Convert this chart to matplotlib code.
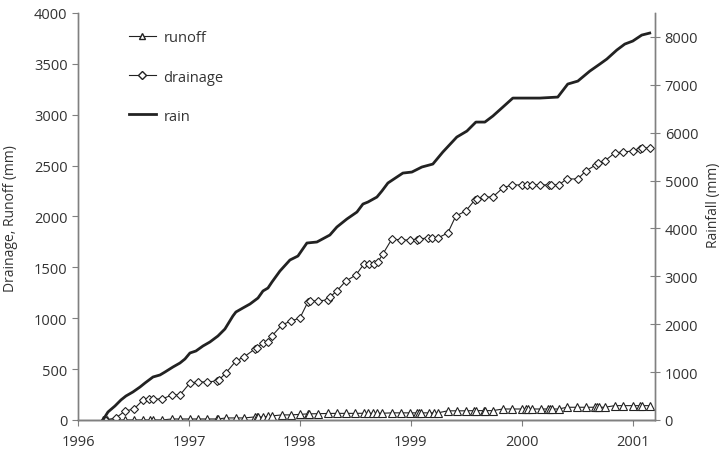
import matplotlib
matplotlib.use('Agg')
import numpy as np
import matplotlib.pyplot as plt
from matplotlib.lines import Line2D

# cumulative rainfall (right axis), decimal years
rain_year = [1996.225, 1996.270, 1996.333, 1996.387, 1996.432, 1996.495, 1996.559, 1996.604,
             1996.676, 1996.739, 1996.784, 1996.856, 1996.919, 1996.964, 1997.009, 1997.063,
             1997.126, 1997.189, 1997.261, 1997.324, 1997.396, 1997.423, 1997.486, 1997.550,
             1997.622, 1997.667, 1997.712, 1997.748, 1997.820, 1997.910, 1997.982, 1998.063,
             1998.153, 1998.270, 1998.333, 1998.423, 1998.514, 1998.568, 1998.613, 1998.694,
             1998.739, 1998.793, 1998.874, 1998.928, 1999.009, 1999.099, 1999.198, 1999.288,
             1999.414, 1999.505, 1999.586, 1999.667, 1999.739, 1999.829, 1999.919, 2000.162,
             2000.324, 2000.414, 2000.505, 2000.613, 2000.703, 2000.766, 2000.856, 2000.928,
             2001.000, 2001.081, 2001.153]
rain_mm = [0, 167, 292, 418, 501, 585, 689, 773,
           898, 940, 1002, 1107, 1190, 1274, 1399, 1441,
           1545, 1629, 1754, 1900, 2172, 2255, 2339, 2422,
           2547, 2694, 2756, 2881, 3111, 3341, 3424, 3696,
           3717, 3863, 4030, 4197, 4343, 4510, 4552, 4656,
           4782, 4949, 5074, 5157, 5178, 5283, 5345, 5596,
           5909, 6034, 6222, 6222, 6348, 6535, 6723, 6723,
           6744, 7016, 7078, 7287, 7433, 7538, 7726, 7851,
           7914, 8039, 8081]

# cumulative drainage (left axis)
drain_year = [1996.243, 1996.342, 1996.423, 1996.505, 1996.586, 1996.640, 1996.676, 1996.757,
              1996.847, 1996.919, 1997.009, 1997.081, 1997.162, 1997.252, 1997.270, 1997.333,
              1997.423, 1997.495, 1997.595, 1997.613, 1997.667, 1997.712, 1997.748, 1997.838,
              1997.919, 1998.000, 1998.072, 1998.090, 1998.162, 1998.252, 1998.270, 1998.333,
              1998.414, 1998.505, 1998.577, 1998.622, 1998.667, 1998.703, 1998.748, 1998.829,
              1998.910, 1998.991, 1999.054, 1999.072, 1999.153, 1999.189, 1999.243, 1999.333,
              1999.405, 1999.495, 1999.577, 1999.595, 1999.658, 1999.739, 1999.829, 1999.910,
              2000.000, 2000.045, 2000.090, 2000.162, 2000.243, 2000.261, 2000.333, 2000.405,
              2000.505, 2000.577, 2000.667, 2000.685, 2000.748, 2000.838, 2000.910, 2001.000,
              2001.063, 2001.081, 2001.153]
drain_mm = [0, 20, 88, 108, 197, 206, 206, 206,
            246, 246, 364, 374, 374, 383, 393, 462,
            580, 619, 698, 708, 757, 767, 826, 934,
            973, 1002, 1160, 1170, 1170, 1180, 1209, 1268,
            1366, 1425, 1533, 1533, 1533, 1553, 1632, 1779,
            1769, 1769, 1769, 1779, 1789, 1789, 1789, 1838,
            2005, 2054, 2163, 2172, 2192, 2192, 2281, 2310,
            2310, 2310, 2310, 2310, 2310, 2310, 2310, 2369,
            2369, 2448, 2507, 2526, 2546, 2625, 2634, 2644,
            2664, 2674, 2674]

# cumulative runoff (left axis)
runoff_year = [1996.225, 1996.261, 1996.342, 1996.423, 1996.505, 1996.586, 1996.649, 1996.676,
               1996.757, 1996.847, 1996.919, 1997.009, 1997.081, 1997.162, 1997.252, 1997.261,
               1997.333, 1997.423, 1997.495, 1997.595, 1997.613, 1997.622, 1997.667, 1997.712,
               1997.748, 1997.838, 1997.919, 1998.000, 1998.072, 1998.081, 1998.162, 1998.252,
               1998.333, 1998.414, 1998.495, 1998.577, 1998.613, 1998.658, 1998.694, 1998.739,
               1998.829, 1998.910, 1998.991, 1999.054, 1999.072, 1999.090, 1999.162, 1999.207,
               1999.243, 1999.333, 1999.414, 1999.495, 1999.568, 1999.586, 1999.658, 1999.667,
               1999.739, 1999.829, 1999.910, 2000.000, 2000.036, 2000.054, 2000.090, 2000.171,
               2000.234, 2000.252, 2000.270, 2000.333, 2000.405, 2000.495, 2000.577, 2000.658,
               2000.676, 2000.694, 2000.748, 2000.838, 2000.910, 2001.000, 2001.063, 2001.081,
               2001.153]
runoff_mm = [0, 0, 0, 0, 0, 0, 0, 0,
             0, 10, 10, 10, 10, 10, 10, 10,
             20, 20, 20, 30, 30, 30, 30, 35,
             40, 50, 50, 55, 60, 60, 62, 64,
             65, 65, 65, 66, 66, 66, 66, 66,
             70, 70, 70, 70, 70, 70, 70, 70,
             70, 90, 90, 90, 92, 92, 92, 92,
             92, 108, 108, 108, 108, 108, 108, 108,
             108, 108, 108, 108, 125, 125, 125, 125,
             125, 125, 125, 141, 141, 141, 141, 141,
             141]

x_ticks = [1996, 1997, 1998, 1999, 2000, 2001]

plt.rcParams['font.family'] = ['Open Sans', 'DejaVu Sans']
text_col = '#333333'
axis_col = '#808080'

fig = plt.figure(figsize=(7.25, 4.56), dpi=100)
ax = fig.add_axes([0.1076, 0.0768, 0.7958, 0.8925])
ax2 = ax.twinx()

ax.plot(runoff_year, runoff_mm, '-', color='#222222', lw=0.8, marker='^', ms=5.5,
        mfc='white', mec='#222222', mew=0.8, zorder=3)
ax.plot(drain_year, drain_mm, '-', color='#222222', lw=0.8, marker='D', ms=4,
        mfc='white', mec='#222222', mew=0.8, zorder=3)
ax2.plot(rain_year, rain_mm, '-', color='#222222', lw=2.0)

ax.set_xlim(1996, 2001.2)
ax.set_ylim(0, 4000)
ax2.set_ylim(0, 8500)
ax.set_xticks(x_ticks)
ax.set_xticklabels([str(y) for y in x_ticks])
ax.set_yticks(np.arange(0, 4001, 500))
ax2.set_yticks(np.arange(0, 8001, 1000))

for a in (ax, ax2):
    a.spines['top'].set_visible(False)
    for s in ('left', 'right', 'bottom'):
        a.spines[s].set_color(axis_col)
        a.spines[s].set_linewidth(1.0)
ax.spines['bottom'].set_color('#222222')
ax.tick_params(axis='both', labelsize=10.5, colors=axis_col, labelcolor=text_col, length=4)
ax.tick_params(axis='x', pad=6)
ax2.tick_params(axis='y', labelsize=10.5, colors=axis_col, labelcolor=text_col,
                direction='inout', length=7)

fig.text(0.014, 0.52, 'Drainage, Runoff (mm)', rotation=90, va='center', ha='center',
         fontsize=10, color=text_col)
fig.text(0.984, 0.55, 'Rainfall (mm)', rotation=90, va='center', ha='center',
         fontsize=10, color=text_col)

handles = [
    Line2D([], [], color='#222222', lw=0.8, marker='^', ms=5, mfc='white', mec='#222222'),
    Line2D([], [], color='#222222', lw=0.8, marker='D', ms=4, mfc='white', mec='#222222'),
    Line2D([], [], color='#222222', lw=2.0),
]
leg = ax2.legend(handles, ['runoff', 'drainage', 'rain'], loc='upper left',
                 bbox_to_anchor=(0.075, 0.975), frameon=False, fontsize=10.5,
                 labelspacing=1.65, handlelength=1.9, handletextpad=0.5, borderpad=0)
for t in leg.get_texts():
    t.set_color(text_col)

fig.savefig('out.png', dpi=100)
